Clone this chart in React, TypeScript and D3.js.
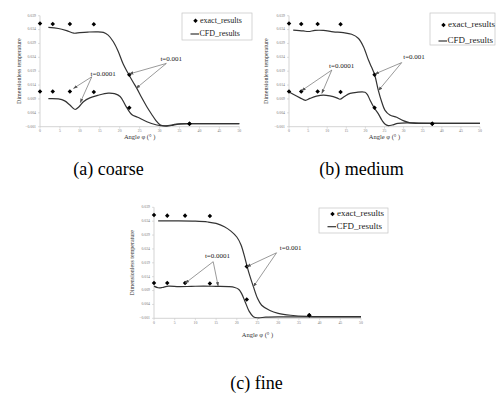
import React from 'react';
import * as d3 from 'd3';

const phiTicks = [0, 5, 10, 15, 20, 25, 30, 35, 40, 45, 50];
const tempTicks = [-0.001, 0.004, 0.009, 0.014, 0.019, 0.024, 0.029, 0.034, 0.039];

const exactPhi = [0, 3.2, 7.5, 13.5, 22.4, 37.5];
const exactT001 = [0.0362, 0.036, 0.036, 0.0359, 0.0177, 0.0001];
const exactT0001 = [0.0117, 0.0117, 0.0117, 0.0115, 0.0058, 0.0001];

const coarseHighPhi = [2.1, 4.6, 6.7, 8.5, 10, 12, 14.2, 15.9, 17.1, 18.4, 19.6, 20.9, 22.2, 23.3, 24.3, 25.5, 26.8, 28, 29, 30.2, 31.8, 33.5, 35.2, 37.6, 40, 45, 50];
const coarseHigh = [0.0348, 0.0344, 0.0336, 0.0327, 0.0329, 0.0331, 0.0332, 0.033, 0.032, 0.0296, 0.0262, 0.0215, 0.018, 0.0152, 0.0128, 0.0095, 0.0062, 0.0035, 0.0014, -0.0004, -0.0008, -0.0004, 0.0, 0.0001, 0.0001, 0.0001, 0.0001];
const coarseLowPhi = [2.1, 4.6, 6.2, 7.5, 8.8, 9.8, 10.9, 12.5, 14.5, 17.1, 18.7, 20.1, 21.4, 23, 24.5, 26.8, 29.3, 31.5, 34.3, 37.7, 40, 45, 50];
const coarseLow = [0.0091, 0.009, 0.0083, 0.0068, 0.0052, 0.0062, 0.008, 0.0094, 0.0103, 0.0111, 0.0109, 0.0099, 0.0068, 0.0034, 0.0024, 0.0008, -0.0004, -0.0007, -0.0001, 0.0001, 0.0001, 0.0001, 0.0001];

const mediumHighPhi = [1.1, 3.75, 5.1, 6.8, 9, 11.6, 14.2, 16.4, 18.2, 19.5, 20.8, 21.6, 22.4, 23.4, 24.3, 25.1, 26.4, 28.2, 29.9, 31.7, 33.4, 37, 50];
const mediumHigh = [0.0338, 0.0335, 0.0333, 0.0337, 0.0337, 0.0332, 0.0329, 0.0323, 0.0308, 0.0278, 0.023, 0.0205, 0.0178, 0.012, 0.0078, 0.005, 0.0032, 0.0024, 0.0012, 0.0004, 0.0002, 0.0002, 0.0002];
const mediumLowPhi = [0, 1.1, 2.9, 4.3, 5.5, 7.2, 9, 10.7, 12.5, 13.35, 14.5, 16, 17.7, 19.9, 20.6, 21.2, 22.25, 23.4, 24.3, 25.1, 26, 27, 28.5, 31, 34, 40, 50];
const mediumLow = [0.0116, 0.0107, 0.0094, 0.0085, 0.0092, 0.01, 0.0104, 0.0101, 0.0094, 0.0089, 0.0099, 0.011, 0.0114, 0.0114, 0.0104, 0.0086, 0.0059, 0.0036, 0.0014, 0.0, -0.0006, -0.0004, 0.0002, 0.0004, 0.0003, 0.0002, 0.0002];

const fineHighPhi = [1, 5, 10, 13, 15, 17, 18.5, 20, 21, 22, 22.5, 23, 24, 25, 26, 28, 30, 33, 37, 50];
const fineHigh = [0.0341, 0.0341, 0.034, 0.0337, 0.0332, 0.032, 0.0305, 0.0283, 0.0255, 0.0205, 0.0176, 0.015, 0.0104, 0.0062, 0.0037, 0.0018, 0.0008, 0.0001, -0.0003, -0.0004];
const fineLowPhi = [0, 1, 2, 3.5, 6, 9, 12, 15, 18, 19.5, 20.5, 21.2, 22, 23, 24, 25, 27, 30, 40, 50];
const fineLow = [0.0106, 0.01, 0.0101, 0.0106, 0.0104, 0.0105, 0.0106, 0.0105, 0.0104, 0.0101, 0.0094, 0.0078, 0.005, 0.0015, -0.0004, -0.0008, -0.0006, -0.0005, -0.0005, -0.0005];

const legendLabels = ['exact_results', 'CFD_results'];
const annLabels = ['t=0.001', 't=0.0001'];

type Ann = { text: [number, number]; origin: [number, number]; ends: [number, number][] };
type Panel = {
  key: string; caption: string; capX: number; capY: number;
  x0: number; x1: number; yTop: number; yBot: number;
  ylabX: number; xlabY: number;
  highPhi: number[]; high: number[]; lowPhi: number[]; low: number[];
  legend: { x: number; y: number; w: number; h: number; fs: number; r1: number; r2: number };
  anns: Ann[];
};

const panels: Panel[] = [
  {
    key: 'a', caption: '(a) coarse', capX: 108.5, capY: 175,
    x0: 40, x1: 239.3, yTop: 15.7, yBot: 126.7, ylabX: 20, xlabY: 139,
    highPhi: coarseHighPhi, high: coarseHigh, lowPhi: coarseLowPhi, low: coarseLow,
    legend: { x: 182, y: 13, w: 70, h: 27, fs: 8, r1: 20.7, r2: 34 },
    anns: [
      { text: [30.2, 0.0233], origin: [31.7, 0.0218], ends: [[22.4, 0.018], [24.1, 0.0128]] },
      { text: [12.7, 0.0179], origin: [13.0, 0.017], ends: [[8.4, 0.0128], [10.1, 0.0077]] },
    ],
  },
  {
    key: 'b', caption: '(b) medium', capX: 361.5, capY: 175,
    x0: 289, x1: 480, yTop: 15.7, yBot: 126.7, ylabX: 267, xlabY: 139,
    highPhi: mediumHighPhi, high: mediumHigh, lowPhi: mediumLowPhi, low: mediumLow,
    legend: { x: 430, y: 13, w: 65, h: 32, fs: 9, r1: 25, r2: 41 },
    anns: [
      { text: [29.9, 0.024], origin: [29.5, 0.0221], ends: [[22.5, 0.018], [23.4, 0.012]] },
      { text: [10.5, 0.0209], origin: [11.2, 0.0194], ends: [[3.3, 0.012], [8.6, 0.011]] },
    ],
  },
  {
    key: 'c', caption: '(c) fine', capX: 256.5, capY: 389,
    x0: 154, x1: 361, yTop: 207.3, yBot: 318.3, ylabX: 133, xlabY: 337,
    highPhi: fineHighPhi, high: fineHigh, lowPhi: fineLowPhi, low: fineLow,
    legend: { x: 319, y: 208, w: 69, h: 25, fs: 9, r1: 214, r2: 226.7 },
    anns: [
      { text: [30.4, 0.0242], origin: [29.6, 0.0226], ends: [[22.4, 0.0176], [24.0, 0.0104]] },
      { text: [12.3, 0.0212], origin: [14.3, 0.0194], ends: [[7.5, 0.0116], [15.5, 0.0106]] },
    ],
  },
];

const serif = "'Liberation Serif', 'DejaVu Serif', serif";
const axisColor = '#c8c8c8';
const tickText = '#7a7a7a';
const curveColor = '#333333';

function PanelView({ p }: { p: Panel }) {
  const x = d3.scaleLinear().domain([0, 50]).range([p.x0, p.x1]);
  const y = d3.scaleLinear().domain([-0.001, 0.039]).range([p.yBot, p.yTop]);
  const line = d3.line<[number, number]>().x(d => x(d[0])).y(d => y(d[1])).curve(d3.curveCatmullRom.alpha(0.5));
  const highPts = p.highPhi.map((v, i) => [v, p.high[i]] as [number, number]);
  const lowPts = p.lowPhi.map((v, i) => [v, p.low[i]] as [number, number]);
  const diamond = d3.symbol().type(d3.symbolDiamond2).size(13)();
  const fmt = d3.format('.3f');
  const lg = p.legend;
  return (
    <g>
      <line x1={p.x0} x2={p.x0} y1={p.yTop} y2={p.yBot} stroke={axisColor} strokeWidth={0.8} />
      <line x1={p.x0} x2={p.x1} y1={p.yBot} y2={p.yBot} stroke={axisColor} strokeWidth={0.8} />
      {tempTicks.map(t => (
        <g key={'y' + t}>
          <line x1={p.x0 - 2} x2={p.x0} y1={y(t)} y2={y(t)} stroke={axisColor} strokeWidth={0.6} />
          <text x={p.x0 - 4} y={y(t)} fontSize={3.8} fill={tickText} textAnchor="end" dominantBaseline="middle" fontFamily={serif}>{fmt(t)}</text>
        </g>
      ))}
      {phiTicks.map(t => (
        <g key={'x' + t}>
          <line x1={x(t)} x2={x(t)} y1={p.yBot} y2={p.yBot + 2} stroke={axisColor} strokeWidth={0.6} />
          <text x={x(t)} y={p.yBot + 4.8} fontSize={3.8} fill={tickText} textAnchor="middle" dominantBaseline="middle" fontFamily={serif}>{t}</text>
        </g>
      ))}
      <text transform={`translate(${p.ylabX},${(p.yTop + p.yBot) / 2}) rotate(-90)`} fontSize={6} textAnchor="middle" dominantBaseline="middle" fontFamily={serif} fill="#333">Dimensionless temperature</text>
      <text x={(p.x0 + p.x1) / 2} y={p.xlabY} fontSize={6.5} textAnchor="middle" fontFamily={serif} fill="#333">Angle φ (° )</text>

      <path d={line(highPts) || ''} fill="none" stroke={curveColor} strokeWidth={1.2} />
      <path d={line(lowPts) || ''} fill="none" stroke={curveColor} strokeWidth={1.2} />

      {exactPhi.map((ph, i) => (
        <g key={'e' + i}>
          <path d={diamond} transform={`translate(${x(ph)},${y(exactT001[i])})`} fill="#000" />
          <path d={diamond} transform={`translate(${x(ph)},${y(exactT0001[i])})`} fill="#000" />
        </g>
      ))}

      {p.anns.map((a, i) => (
        <g key={'a' + i}>
          {a.ends.map((e, j) => (
            <line key={j} x1={x(a.origin[0])} y1={y(a.origin[1])} x2={x(e[0])} y2={y(e[1])} stroke="#555" strokeWidth={0.6} markerEnd="url(#arrow)" />
          ))}
          <text x={x(a.text[0])} y={y(a.text[1])} fontSize={7} fontFamily={serif} dominantBaseline="middle" fill="#222">{annLabels[i]}</text>
        </g>
      ))}

      <rect x={lg.x} y={lg.y} width={lg.w} height={lg.h} fill="#fff" stroke="#c4c4c4" strokeWidth={0.7} />
      <path d={diamond} transform={`translate(${lg.x + 13.5},${lg.r1})`} fill="#000" />
      <text x={lg.x + 18} y={lg.r1} fontSize={lg.fs} fontFamily={serif} dominantBaseline="middle" fill="#222">{legendLabels[0]}</text>
      <line x1={lg.x + 8.5} x2={lg.x + 17} y1={lg.r2} y2={lg.r2} stroke={curveColor} strokeWidth={1.2} />
      <text x={lg.x + 17.5} y={lg.r2} fontSize={lg.fs} fontFamily={serif} dominantBaseline="middle" fill="#222">{legendLabels[1]}</text>

      <text x={p.capX} y={p.capY} fontSize={18} fontFamily={serif} textAnchor="middle" fill="#000">{p.caption}</text>
    </g>
  );
}

export default function App() {
  return (
    <svg width={500} height={393} viewBox="0 0 500 393" style={{ position: 'absolute', left: 0, top: 0, background: '#fff' }}>
      <defs>
        <marker id="arrow" viewBox="0 0 10 10" refX="9" refY="5" markerWidth="4.5" markerHeight="4.5" markerUnits="userSpaceOnUse" orient="auto">
          <path d="M0,1.5 L10,5 L0,8.5 z" fill="#555" />
        </marker>
      </defs>
      <rect x={0} y={0} width={500} height={393} fill="#fff" />
      {panels.map(p => <PanelView key={p.key} p={p} />)}
    </svg>
  );
}
